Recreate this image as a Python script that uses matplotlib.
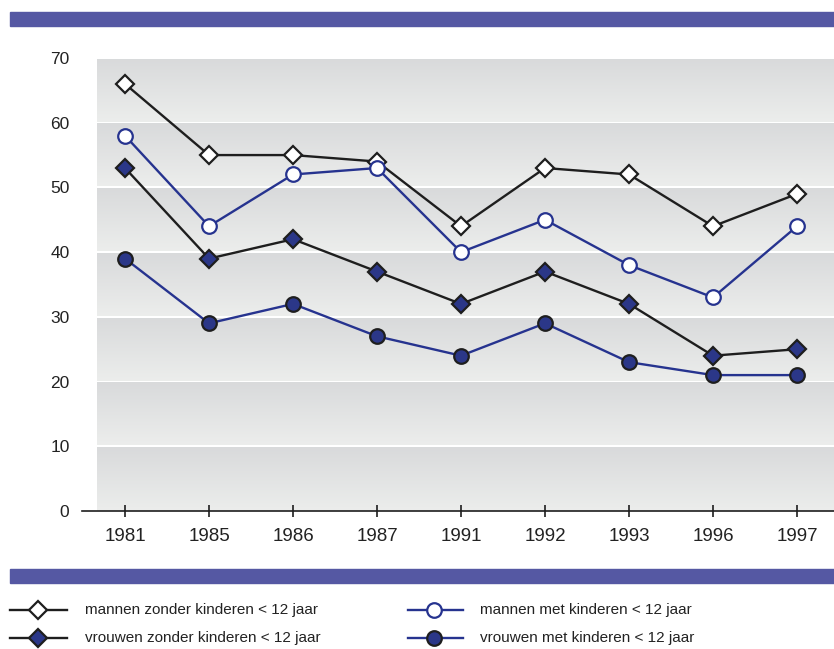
import numpy as np
import matplotlib.pyplot as plt
from matplotlib.lines import Line2D
from matplotlib.patches import Rectangle

years = ["1981", "1985", "1986", "1987", "1991", "1992", "1993", "1996", "1997"]
mannen_zonder = [66, 55, 55, 54, 44, 53, 52, 44, 49]
mannen_met = [58, 44, 52, 53, 40, 45, 38, 33, 44]
vrouwen_zonder = [53, 39, 42, 37, 32, 37, 32, 24, 25]
vrouwen_met = [39, 29, 32, 27, 24, 29, 23, 21, 21]
labels = ["mannen zonder kinderen < 12 jaar", "mannen met kinderen < 12 jaar",
          "vrouwen zonder kinderen < 12 jaar", "vrouwen met kinderen < 12 jaar"]

purple = "#5558a3"
blue = "#26338f"
navy = "#2b3788"
black = "#1e1e1e"

W, H = 834, 649
fig = plt.figure(figsize=(W / 100, H / 100), dpi=100)

def fx(px):
    return px / W

def fy(py):
    return 1 - py / H

# purple bars
fig.patches.append(Rectangle((fx(10), fy(26)), fx(824), 14 / H, transform=fig.transFigure,
                             color=purple, zorder=0))
fig.patches.append(Rectangle((fx(10), fy(583)), fx(824), 14 / H, transform=fig.transFigure,
                             color=purple, zorder=0))

ax = fig.add_axes([fx(82), fy(511), 1 - fx(82), (511 - 58) / H])
x = np.arange(len(years))

# gradient bands, darker at top of each band
grad = np.linspace(0, 1, 50).reshape(-1, 1)
top = np.array([0.85, 0.855, 0.86])
bot = np.array([0.925, 0.93, 0.925])
img = top + (bot - top) * grad[:, :, None] * np.ones((1, 2, 1))
for k in range(7):
    lo = k * 10 if k == 0 else k * 10 + 0.15
    ax.imshow(img, extent=(-0.333, 8.44, lo, k * 10 + 10 - 0.15), origin="upper",
              aspect="auto", zorder=0, interpolation="bilinear")
ax.set_xlim(-0.512, 8.44)
ax.set_ylim(0, 70)

DMS, OMS = 9.5, 10.5
kw = dict(linewidth=1.7, markeredgewidth=1.6, zorder=3)
ax.plot(x, mannen_zonder, color=black, marker="D", markersize=DMS, markerfacecolor="white",
        markeredgecolor=black, **kw)
ax.plot(x, mannen_met, color=blue, marker="o", markersize=OMS, markerfacecolor="white",
        markeredgecolor=blue, **kw)
ax.plot(x, vrouwen_zonder, color=black, marker="D", markersize=DMS, markerfacecolor=navy,
        markeredgecolor=black, **kw)
ax.plot(x, vrouwen_met, color=blue, marker="o", markersize=OMS, markerfacecolor=navy,
        markeredgecolor=black, **kw)

for s in ["top", "right", "left"]:
    ax.spines[s].set_visible(False)
ax.spines["bottom"].set_color(black)
ax.spines["bottom"].set_linewidth(1.2)
ax.set_xticks(x)
ax.set_xticklabels(years, fontsize=13.5, family="Liberation Sans", color="#222222")
ax.tick_params(axis="x", direction="inout", length=8, width=1.2, color=black, pad=8)
ax.set_yticks(range(0, 71, 10))
ax.set_yticklabels([str(v) for v in range(0, 71, 10)], fontsize=12.5,
                   family="Liberation Sans", color="#222222")
ax.tick_params(axis="y", length=0, pad=9)

# legend
items = [
    (10, 67, 38, 610, labels[0], black, "D", DMS, "white", black, 85),
    (408, 463, 434, 610, labels[1], blue, "o", OMS, "white", blue, 480),
    (10, 67, 38, 638, labels[2], black, "D", DMS, navy, black, 85),
    (408, 463, 434, 638, labels[3], blue, "o", OMS, navy, black, 480),
]
for x0, x1, xm, yy, lab, lc, mk, ms, mf, me, xt in items:
    fig.add_artist(Line2D([fx(x0), fx(x1)], [fy(yy), fy(yy)], transform=fig.transFigure,
                          color=lc, linewidth=1.7))
    fig.add_artist(Line2D([fx(xm)], [fy(yy)], transform=fig.transFigure, marker=mk,
                          markersize=ms, markerfacecolor=mf, markeredgecolor=me,
                          markeredgewidth=1.6, linestyle="none"))
    fig.text(fx(xt), fy(yy), lab, fontsize=11, family="Liberation Sans",
             va="center", ha="left", color="#222222")

fig.savefig("out.png", dpi=100)
